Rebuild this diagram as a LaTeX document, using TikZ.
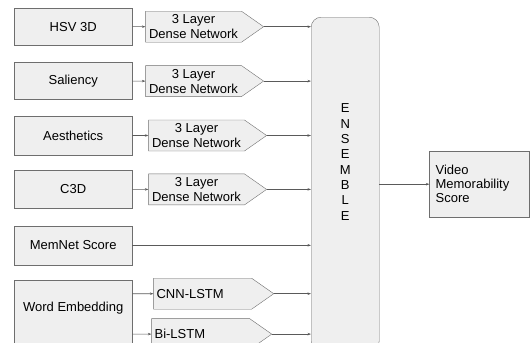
\documentclass[tikz,border=0pt]{standalone}
\usepackage{fontspec}
\setmainfont{Liberation Sans}
\usepackage{tikz}
\usetikzlibrary{shapes.symbols, arrows.meta, positioning, calc}
\definecolor{boxFill}{RGB}{239,239,239}
\definecolor{boxLine}{RGB}{110,110,110}
\definecolor{wireLine}{RGB}{90,90,90}

\begin{document}
\begin{tikzpicture}[
    x=1pt, y=1pt,
    node distance=16pt and 13pt,
    featbox/.style={draw=boxLine, fill=boxFill, rectangle, align=center, inner sep=3pt, font=\fontsize{13}{15}\selectfont, minimum width=118pt, minimum height=38pt},
    netbox/.style={draw=boxLine, fill=boxFill, signal, signal to=east, signal pointer angle=70, align=center, inner sep=1pt, font=\fontsize{13}{15}\selectfont, minimum width=118pt, minimum height=31pt},
    ensbox/.style={draw=boxLine, fill=boxFill, rectangle, rounded corners=10pt, minimum width=68pt, minimum height=334pt},
    enstext/.style={align=center, font=\fontsize{13}{15.3}\selectfont},
    outbox/.style={draw=boxLine, fill=boxFill, rectangle, align=left, inner xsep=6pt, inner ysep=3pt, font=\fontsize{13}{14}\selectfont, text width=88pt, minimum height=66pt},
    arrow/.style={-{Stealth[length=3.5pt, width=2.5pt]}, line width=0.6pt, draw=wireLine}
]
\useasboundingbox (0,0) rectangle (531,-343);
\clip (0,0) rectangle (531,-343);

% Feature Nodes
\node (hsv) [featbox, minimum height=37pt, anchor=north west] at (14,-8) {HSV 3D};
\node (sal) [featbox, minimum height=37pt, below=17pt of hsv] {Saliency};
\node (aes) [featbox, minimum height=39pt, below=16pt of sal] {Aesthetics};
\node (c3d) [featbox, below=15pt of aes] {C3D};
\node (memnet) [featbox, minimum height=39pt, below=17pt of c3d] {MemNet Score};
\node (word) [featbox, minimum height=72pt, text height=28pt, text depth=38pt, below=15pt of memnet] {Word Embedding};

% Dense Networks
\node (dense_hsv) [netbox, right=13pt of hsv] {3 Layer\\Dense Network};
\node (dense_sal) [netbox, right=13pt of sal] {3 Layer\\Dense Network};
\node (dense_aes) [netbox, right=16pt of aes] {3 Layer\\Dense Network};
\node (dense_c3d) [netbox, right=16pt of c3d] {3 Layer\\Dense Network};

% Text Networks
\node (cnn_lstm) [netbox, align=left, inner xsep=3pt, text width=92pt, below right=-2pt and 21pt of word.north east] {CNN-LSTM};
\node (bi_lstm) [netbox, align=left, inner xsep=3pt, text width=92pt, below=9pt of cnn_lstm, xshift=-2pt] {Bi-LSTM};

% Ensemble Block
\node (ens) [ensbox, anchor=north west] at (311,-17) {};
\node (ens_word) [enstext] at ([yshift=-145pt]ens.north) {E\\N\\S\\E\\M\\B\\L\\E};

% Output
\node (video) [outbox, right=50pt of ens] {Video\\Memorability\\Score};

% Connections
\draw [arrow] (hsv) -- (dense_hsv);
\draw [arrow] (sal) -- (dense_sal);
\draw [arrow] (aes) -- (dense_aes);
\draw [arrow] (c3d) -- (dense_c3d);
\draw [arrow] (word.east |- cnn_lstm) -- (cnn_lstm);
\draw [arrow] (word.east |- bi_lstm) -- (bi_lstm);

\draw [arrow] (dense_hsv.east) -- (dense_hsv.east -| ens.west);
\draw [arrow] (dense_sal.east) -- (dense_sal.east -| ens.west);
\draw [arrow] (dense_aes.east) -- (dense_aes.east -| ens.west);
\draw [arrow] (dense_c3d.east) -- (dense_c3d.east -| ens.west);
\draw [arrow] (memnet.east) -- (memnet.east -| ens.west);
\draw [arrow] (cnn_lstm.east) -- (cnn_lstm.east -| ens.west);
\draw [arrow] (bi_lstm.east) -- (bi_lstm.east -| ens.west);

\draw [arrow] (ens.east |- video.west) -- (video.west);

\end{tikzpicture}
\end{document}
